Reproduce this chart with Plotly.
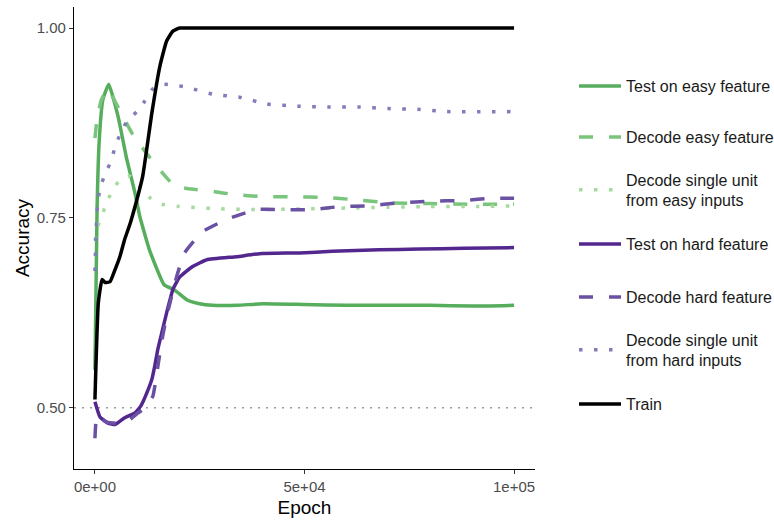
import plotly.graph_objects as go

# ---- data ----
easy_test_x = [0, 500, 1000, 1900, 3300, 5500, 7600, 9500, 10700, 13000, 16500, 19000, 22000, 25000, 28000, 34000, 40000, 50000, 60000, 70000, 80000, 90000, 100000]
easy_test_y = [0.55, 0.76, 0.85, 0.906, 0.926, 0.884, 0.827, 0.784, 0.752, 0.708, 0.662, 0.655, 0.642, 0.637, 0.635, 0.635, 0.637, 0.636, 0.635, 0.635, 0.635, 0.634, 0.635]

easy_dec_x = [0, 500, 1500, 3000, 5500, 9000, 13000, 16000, 19000, 23000, 28000, 33000, 40000, 47000, 55000, 62000, 70000, 80000, 90000, 100000]
easy_dec_y = [0.855, 0.88, 0.905, 0.92, 0.896, 0.86, 0.83, 0.81, 0.792, 0.788, 0.785, 0.781, 0.778, 0.778, 0.777, 0.774, 0.770, 0.769, 0.768, 0.768]

easy_unit_x = [0, 1000, 2500, 4000, 6000, 8500, 11000, 13000, 16000, 20000, 30000, 40000, 50000, 60000, 70000, 80000, 90000, 100000]
easy_unit_y = [0.72, 0.745, 0.765, 0.785, 0.80, 0.805, 0.79, 0.777, 0.768, 0.765, 0.762, 0.761, 0.762, 0.763, 0.764, 0.765, 0.765, 0.766]

hard_test_x = [0, 1200, 3100, 4800, 7100, 9500, 11000, 12400, 13600, 14300, 15000, 16000, 17100, 18600, 20200, 23300, 26700, 33800, 39300, 48800, 56600, 67800, 77400, 88000, 100000]
hard_test_y = [0.508, 0.488, 0.480, 0.478, 0.487, 0.493, 0.503, 0.520, 0.538, 0.556, 0.577, 0.600, 0.625, 0.656, 0.672, 0.686, 0.695, 0.699, 0.703, 0.704, 0.706, 0.708, 0.709, 0.710, 0.711]

hard_dec_x = [0, 500, 2800, 7100, 10200, 12000, 13800, 15000, 16000, 17100, 19500, 21400, 25700, 31400, 38500, 45000, 52000, 58500, 65000, 73000, 80000, 87600, 95000, 100000]
hard_dec_y = [0.46, 0.49, 0.481, 0.480, 0.493, 0.500, 0.515, 0.554, 0.590, 0.620, 0.673, 0.704, 0.732, 0.748, 0.761, 0.761, 0.761, 0.765, 0.766, 0.770, 0.772, 0.773, 0.776, 0.776]

hard_unit_x = [0, 400, 700, 1200, 2400, 4000, 4800, 6000, 7600, 10000, 11900, 13800, 16200, 20000, 22000, 28000, 34500, 41000, 49000, 56000, 63000, 70000, 77000, 84000, 100000]
hard_unit_y = [0.68, 0.75, 0.77, 0.79, 0.807, 0.827, 0.844, 0.86, 0.877, 0.89, 0.904, 0.92, 0.926, 0.924, 0.922, 0.913, 0.909, 0.900, 0.897, 0.896, 0.896, 0.894, 0.893, 0.890, 0.890]

train_x = [0, 800, 1700, 2400, 3600, 4800, 6000, 7100, 8300, 10000, 11400, 13600, 15500, 17100, 18600, 20200, 22000, 25000, 30000, 50000, 100000]
train_y = [0.511, 0.638, 0.669, 0.665, 0.666, 0.682, 0.70, 0.722, 0.741, 0.774, 0.805, 0.889, 0.95, 0.983, 0.996, 1.0, 1.0, 1.0, 1.0, 1.0, 1.0]

CHANCE = 0.5

series = [
    ("Test on easy feature", easy_test_x, easy_test_y, "#56ad5c", "solid"),
    ("Decode easy feature", easy_dec_x, easy_dec_y, "#79c57c", "14px,16px"),
    ("Decode single unit<br>from easy inputs", easy_unit_x, easy_unit_y, "#a6dba0", "3.5px,11.5px"),
    ("Test on hard feature", hard_test_x, hard_test_y, "#54278f", "solid"),
    ("Decode hard feature", hard_dec_x, hard_dec_y, "#6a51a3", "14px,16px"),
    ("Decode single unit<br>from hard inputs", hard_unit_x, hard_unit_y, "#807dba", "3.5px,11.5px"),
    ("Train", train_x, train_y, "#000000", "solid"),
]

legend_y = [0.829, 0.7186, 0.6039, 0.487, 0.3723, 0.2576, 0.1407]

fig = go.Figure()
layout_legends = {}
for i, (name, xs, ys, col, dash) in enumerate(series):
    lname = "legend" if i == 0 else f"legend{i+1}"
    fig.add_trace(go.Scatter(
        x=xs, y=ys, mode="lines", name=name,
        line=dict(color=col, width=3.5, dash=dash, shape="spline", smoothing=0.4),
        legend=lname,
    ))
    layout_legends[lname] = dict(
        x=1.0846, xanchor="left", y=legend_y[i], yanchor="middle",
        font=dict(family="Liberation Sans, Arial, sans-serif", size=16, color="#1a1a1a"),
        bgcolor="rgba(0,0,0,0)", itemwidth=42, valign="middle",
    )

fig.add_shape(type="line", xref="paper", x0=0, x1=1, yref="y", y0=CHANCE, y1=CHANCE,
              line=dict(color="#9a9a9a", width=1.5, dash="2px,6px"), layer="below")

fig.update_layout(
    width=774, height=521,
    margin=dict(l=74, r=239, t=7, b=52, autoexpand=False),
    plot_bgcolor="white", paper_bgcolor="white",
    font=dict(family="Liberation Sans, Arial, sans-serif"),
    showlegend=True,
    **layout_legends,
)

fig.update_xaxes(
    range=[-5000, 105000], tickvals=[0, 50000, 100000], ticktext=["0e+00", "5e+04", "1e+05"],
    showgrid=False, zeroline=False, showline=True, linecolor="black", linewidth=1.2,
    ticks="outside", ticklen=4, tickcolor="#333333", tickwidth=1.1,
    tickfont=dict(size=15, color="#4d4d4d"),
    title=dict(text="Epoch", font=dict(size=19, color="black"), standoff=6),
    automargin=False,
)
fig.update_yaxes(
    range=[0.4195, 1.0277], tickvals=[0.5, 0.75, 1.0], ticktext=["0.50", "0.75", "1.00"],
    showgrid=False, zeroline=False, showline=True, linecolor="black", linewidth=1.2,
    ticks="outside", ticklen=4, tickcolor="#333333", tickwidth=1.1,
    tickfont=dict(size=15, color="#4d4d4d"),
    title=dict(text="Accuracy", font=dict(size=19, color="black"), standoff=2),
    automargin=False,
)

fig.write_html("out.html")
